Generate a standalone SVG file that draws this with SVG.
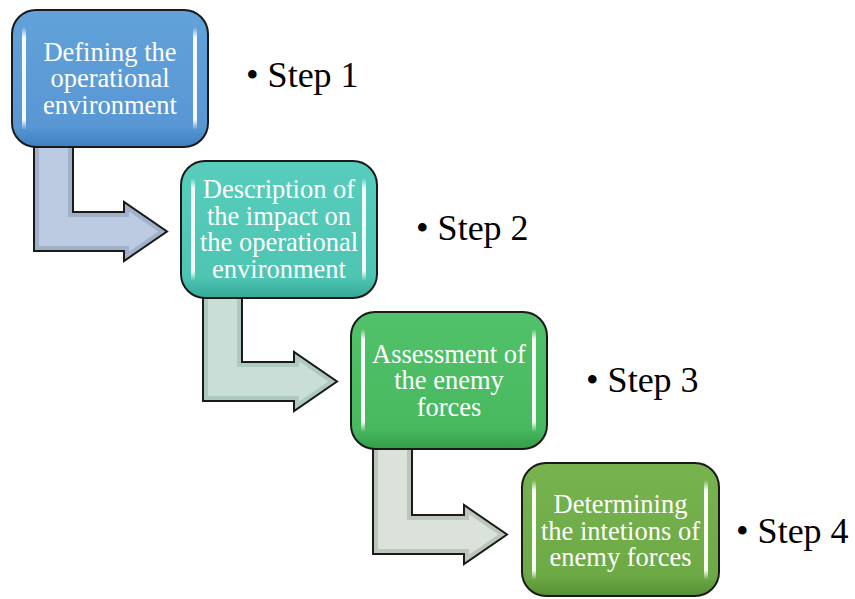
<svg xmlns="http://www.w3.org/2000/svg" width="855" height="599" viewBox="0 0 855 599">
  <defs>
    <linearGradient id="gBlue" x1="0" y1="0" x2="0" y2="1">
      <stop offset="0" stop-color="#62a2da"/>
      <stop offset="0.85" stop-color="#5897d4"/>
      <stop offset="1" stop-color="#3f7fbf"/>
    </linearGradient>
    <linearGradient id="gTeal" x1="0" y1="0" x2="0" y2="1">
      <stop offset="0" stop-color="#58cdbd"/>
      <stop offset="0.85" stop-color="#4ec5b3"/>
      <stop offset="1" stop-color="#35a896"/>
    </linearGradient>
    <linearGradient id="gGreen" x1="0" y1="0" x2="0" y2="1">
      <stop offset="0" stop-color="#52c26a"/>
      <stop offset="0.85" stop-color="#49b960"/>
      <stop offset="1" stop-color="#349c4a"/>
    </linearGradient>
    <linearGradient id="gOlive" x1="0" y1="0" x2="0" y2="1">
      <stop offset="0" stop-color="#77b34e"/>
      <stop offset="0.85" stop-color="#6daa45"/>
      <stop offset="1" stop-color="#558f33"/>
    </linearGradient>
    <linearGradient id="gHi" x1="0" y1="0" x2="0" y2="1">
      <stop offset="0" stop-color="#ffffff" stop-opacity="0"/>
      <stop offset="0.1" stop-color="#ffffff" stop-opacity="0.95"/>
      <stop offset="0.9" stop-color="#ffffff" stop-opacity="0.95"/>
      <stop offset="1" stop-color="#ffffff" stop-opacity="0"/>
    </linearGradient>
    <path id="a1" d="M34,140 L73,140 L73,212 L124,212 L124,202 L167,231.5 L124,261 L124,251 L34,251 Z"/>
    <path id="a2" d="M203,291 L242,291 L242,362 L294,362 L294,352 L337,381.5 L294,411 L294,401 L203,401 Z"/>
    <path id="a3" d="M373,442 L412,442 L412,515 L464,515 L464,505 L507,534.5 L464,564 L464,554 L373,554 Z"/>
    <clipPath id="c1"><use href="#a1"/></clipPath>
    <clipPath id="c2"><use href="#a2"/></clipPath>
    <clipPath id="c3"><use href="#a3"/></clipPath>
    <style>
      .box { stroke: #1a1a1a; stroke-width: 2; }
      .hi { fill: url(#gHi); }
      .arrow { fill: none; stroke: #1a1a1a; stroke-width: 2; stroke-linejoin: miter; }
      .bevel { fill: none; stroke-width: 10; stroke-opacity: 0.45; }
      .lbl { font-family: "Liberation Serif", "Times New Roman", serif; font-size: 26.5px; fill: #ffffff; text-anchor: middle; }
      .step { font-family: "Liberation Serif", "Times New Roman", serif; font-size: 36px; fill: #000000; }
    </style>
  </defs>

  <g id="connectors">
    <use href="#a1" fill="#bccbe1"/>
    <use href="#a1" class="bevel" stroke="#8093b0" clip-path="url(#c1)"/>
    <use href="#a1" class="arrow"/>
    <use href="#a2" fill="#c8ded7"/>
    <use href="#a2" class="bevel" stroke="#8fb0a6" clip-path="url(#c2)"/>
    <use href="#a2" class="arrow"/>
    <use href="#a3" fill="#dbe2da"/>
    <use href="#a3" class="bevel" stroke="#9aa59a" clip-path="url(#c3)"/>
    <use href="#a3" class="arrow"/>
  </g>

  <g id="node1">
    <rect class="box" x="12" y="10" width="196" height="137" rx="24" fill="url(#gBlue)"/>
    <rect class="hi" x="22" y="27" width="4" height="103" rx="2"/>
    <rect class="hi" x="193" y="27" width="4" height="103" rx="2"/>
    <text class="lbl" x="110" y="60.5">Defining the</text>
    <text class="lbl" x="110" y="87">operational</text>
    <text class="lbl" x="110" y="113.5">environment</text>
  </g>

  <g id="node2">
    <rect class="box" x="181" y="161" width="196" height="137" rx="24" fill="url(#gTeal)"/>
    <rect class="hi" x="191" y="178" width="4" height="103" rx="2"/>
    <rect class="hi" x="362" y="178" width="4" height="103" rx="2"/>
    <text class="lbl" x="279" y="198">Description of</text>
    <text class="lbl" x="279" y="224.5">the impact on</text>
    <text class="lbl" x="279" y="251">the operational</text>
    <text class="lbl" x="279" y="277.5">environment</text>
  </g>

  <g id="node3">
    <rect class="box" x="351" y="312" width="196" height="137" rx="24" fill="url(#gGreen)"/>
    <rect class="hi" x="361" y="329" width="4" height="103" rx="2"/>
    <rect class="hi" x="532" y="329" width="4" height="103" rx="2"/>
    <text class="lbl" x="449" y="362.5">Assessment of</text>
    <text class="lbl" x="449" y="389">the enemy</text>
    <text class="lbl" x="449" y="415.5">forces</text>
  </g>

  <g id="node4">
    <rect class="box" x="522" y="463" width="197" height="133" rx="24" fill="url(#gOlive)"/>
    <rect class="hi" x="532" y="480" width="4" height="100" rx="2"/>
    <rect class="hi" x="704" y="480" width="4" height="100" rx="2"/>
    <text class="lbl" x="620.5" y="513">Determining</text>
    <text class="lbl" x="620.5" y="539.5">the intetions of</text>
    <text class="lbl" x="620.5" y="566">enemy forces</text>
  </g>

  <g id="steps">
    <text class="step" x="246" y="87">• Step 1</text>
    <text class="step" x="416" y="240">• Step 2</text>
    <text class="step" x="586" y="392">• Step 3</text>
    <text class="step" x="736" y="543">• Step 4</text>
  </g>
</svg>
